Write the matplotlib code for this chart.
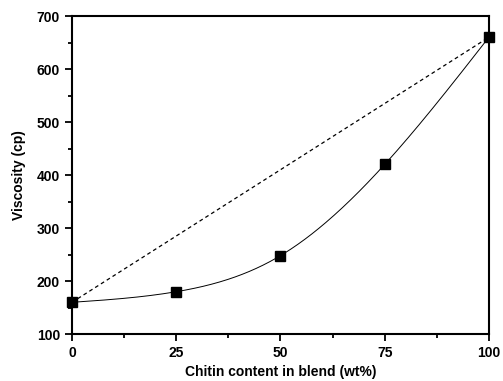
import numpy as np
import matplotlib
matplotlib.use("Agg")
import matplotlib.pyplot as plt
from matplotlib.ticker import MultipleLocator

chitin = [0, 25, 50, 75, 100]
viscosity = [160, 180, 248, 420, 660]

plt.rcParams['font.family'] = ['Liberation Sans', 'DejaVu Sans']


def natural_spline(x, y, xs):
    x = np.asarray(x, float)
    y = np.asarray(y, float)
    n = len(x)
    h = np.diff(x)
    A = np.zeros((n, n))
    b = np.zeros(n)
    A[0, 0] = A[-1, -1] = 1
    for i in range(1, n - 1):
        A[i, i - 1] = h[i - 1]
        A[i, i] = 2 * (h[i - 1] + h[i])
        A[i, i + 1] = h[i]
        b[i] = 6 * ((y[i + 1] - y[i]) / h[i] - (y[i] - y[i - 1]) / h[i - 1])
    M = np.linalg.solve(A, b)
    k = np.clip(np.searchsorted(x, xs) - 1, 0, n - 2)
    t0 = x[k + 1] - xs
    t1 = xs - x[k]
    hk = h[k]
    return (M[k] * t0**3 / (6 * hk) + M[k + 1] * t1**3 / (6 * hk)
            + (y[k] / hk - M[k] * hk / 6) * t0
            + (y[k + 1] / hk - M[k + 1] * hk / 6) * t1)


fig = plt.figure(figsize=(5.03, 3.81), dpi=100)
ax = fig.add_axes([0.143, 0.123, 0.829, 0.835])

# smooth curve through the measured points
xs = np.linspace(0, 100, 300)
ax.plot(xs, natural_spline(chitin, viscosity, xs), color='black', lw=0.7)

# additive line between the pure components
ax.plot([chitin[0], chitin[-1]], [viscosity[0], viscosity[-1]], color='black',
        lw=0.9, ls=(0, (3, 2.5)))

ax.plot(chitin, viscosity, 's', color='black', ms=6.5, clip_on=False, zorder=5)

ax.set_xlim(0, 100)
ax.set_ylim(100, 700)
ax.xaxis.set_major_locator(MultipleLocator(25))
ax.xaxis.set_minor_locator(MultipleLocator(12.5))
ax.yaxis.set_major_locator(MultipleLocator(100))
ax.yaxis.set_minor_locator(MultipleLocator(50))
ax.tick_params(which='major', length=5, width=1.3, labelsize=10)
ax.tick_params(which='minor', length=3, width=1.3)
for lab in ax.get_xticklabels() + ax.get_yticklabels():
    lab.set_fontweight('bold')
for s in ax.spines.values():
    s.set_linewidth(1.5)

ax.set_xlabel('Chitin content in blend (wt%)', fontsize=10, fontweight='bold', labelpad=4)
ax.set_ylabel('Viscosity (cp)', fontsize=10, fontweight='bold', labelpad=8)

fig.savefig('out.png', dpi=100)
